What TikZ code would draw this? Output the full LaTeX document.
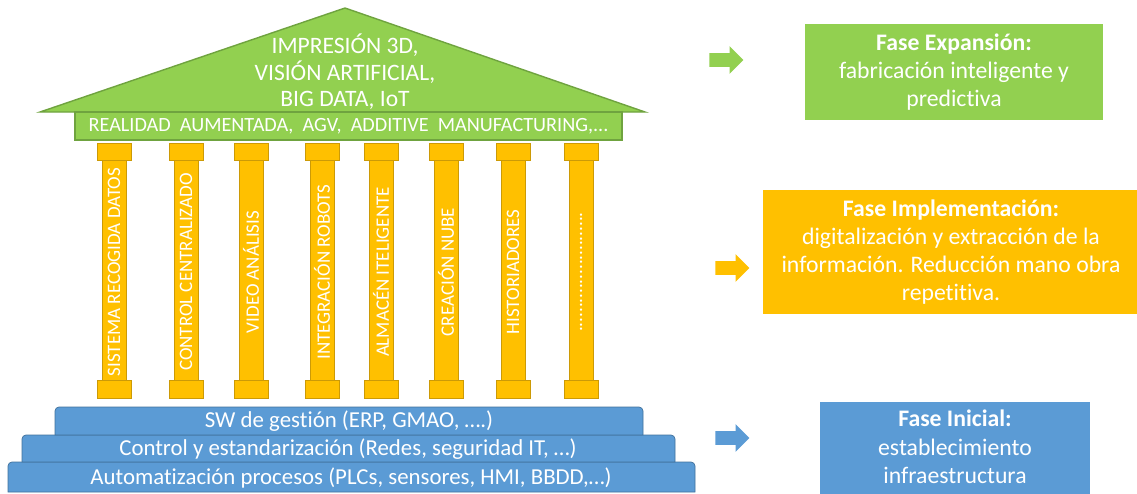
\documentclass[tikz,border=0pt]{standalone}
\usepackage{fontspec}
\setmainfont{Carlito}[Ligatures={NoCommon}]
\usetikzlibrary{shapes.arrows}
\definecolor{roofgreen}{HTML}{92D050}
\definecolor{roofedge}{HTML}{6FA33F}
\definecolor{colgold}{HTML}{FFC000}
\definecolor{coledge}{HTML}{CC9A06}
\definecolor{stepblue}{HTML}{5B9BD5}
\definecolor{stepedge}{HTML}{41719C}
\newcommand{\coldots}{.........................}
\tikzset{
  roof/.style={fill=roofgreen,draw=roofedge,thick},
  colpart/.style={fill=colgold,draw=coledge},
  stepshape/.style={fill=stepblue,draw=stepedge},
  steptext/.style={text=white,font=\fontsize{13}{15}\selectfont},
  phase/.style={text=white,align=center,font=\fontsize{13.5}{16}\selectfont,inner sep=0pt},
  phasearrow/.style={single arrow,single arrow head extend=0.14cm,single arrow head indent=0cm,
    minimum height=0.68cm,inner sep=0.13cm,draw=none},
}
\begin{document}
\begin{tikzpicture}[x=0.02cm,y=-0.02cm]
\useasboundingbox (0,0) rectangle (1137,494);
% temple roof
\filldraw[roof] (40,112) -- (345,8) -- (645,112) -- cycle;
\node[text=white,align=center,font=\fontsize{13.4}{15}\selectfont] (rooftext) at (345,72) {IMPRESIÓN 3D,\\VISIÓN ARTIFICIAL,\\BIG DATA, IoT};
\node[roof,minimum width=10.94cm,minimum height=0.56cm,inner sep=0pt,text=white,font=\fontsize{11.5}{13}\selectfont] (band) at (348.5,126) {REALIDAD\ \ AUMENTADA,\ \ AGV,\ \ ADDITIVE\ \ MANUFACTURING,...};
% columns
\foreach \x/\lbl [count=\i] in {114/SISTEMA RECOGIDA DATOS,186/CONTROL CENTRALIZADO,251/VIDEO ANÁLISIS,322/INTEGRACIÓN ROBOTS,381/ALMACÉN ITELIGENTE,446/CREACIÓN NUBE,513/HISTORIADORES,581/\coldots}{
  \filldraw[colpart] ({\x-17},143) rectangle ({\x+17},160);
  \filldraw[colpart] ({\x-12},160) rectangle ({\x+12},380);
  \filldraw[colpart] ({\x-17},380) rectangle ({\x+17},398);
  \node[rotate=90,text=white,font=\fontsize{10.8}{12}\selectfont] (col\i) at (\x,272) {\lbl};
}
% base steps
\filldraw[stepshape] (8,492) -- (8,466) to[out=90,in=180] (12,462) -- (691,462) to[out=0,in=90] (695,466) -- (695,492) -- cycle;
\filldraw[stepshape] (22,462) -- (22,439) to[out=90,in=180] (26,435) -- (671,435) to[out=0,in=90] (675,439) -- (675,462) -- cycle;
\filldraw[stepshape] (55,435) -- (55,411) to[out=90,in=180] (59,407) -- (639,407) to[out=0,in=90] (643,411) -- (643,435) -- cycle;
\node[steptext] (step1) at (351,478) {Automatización procesos (PLCs, sensores, HMI, BBDD,…)};
\node[steptext] (step2) at (348,449) {Control y estandarización (Redes, seguridad IT, …)};
\node[steptext] (step3) at (349,421) {SW de gestión (ERP, GMAO, ….)};
% phases
\node[phasearrow,fill=roofgreen] (arrowexp) at (723,60) {};
\node[phasearrow,fill=colgold] (arrowimp) at (729,268) {};
\node[phasearrow,fill=stepblue] (arrowini) at (729,438) {};
\node[phase,fill=roofgreen,minimum width=5.96cm,minimum height=1.92cm] (expansion) at (954,72) {\textbf{Fase Expansión:}\\fabricación inteligente y\\predictiva};
\node[phase,fill=colgold,minimum width=7.54cm,minimum height=2.5cm] (implement) at (951,252) {\textbf{Fase Implementación:}\\digitalización y extracción de la\\información. Reducción mano obra\\repetitiva.};
\node[fill=stepblue,minimum width=5.4cm,minimum height=1.9cm,anchor=north,inner sep=0pt] (inicialbox) at (955,402) {};
\node[phase,anchor=north] (inicial) at (955,410) {\textbf{Fase Inicial:}\\establecimiento\\infraestructura};
\end{tikzpicture}
\end{document}
